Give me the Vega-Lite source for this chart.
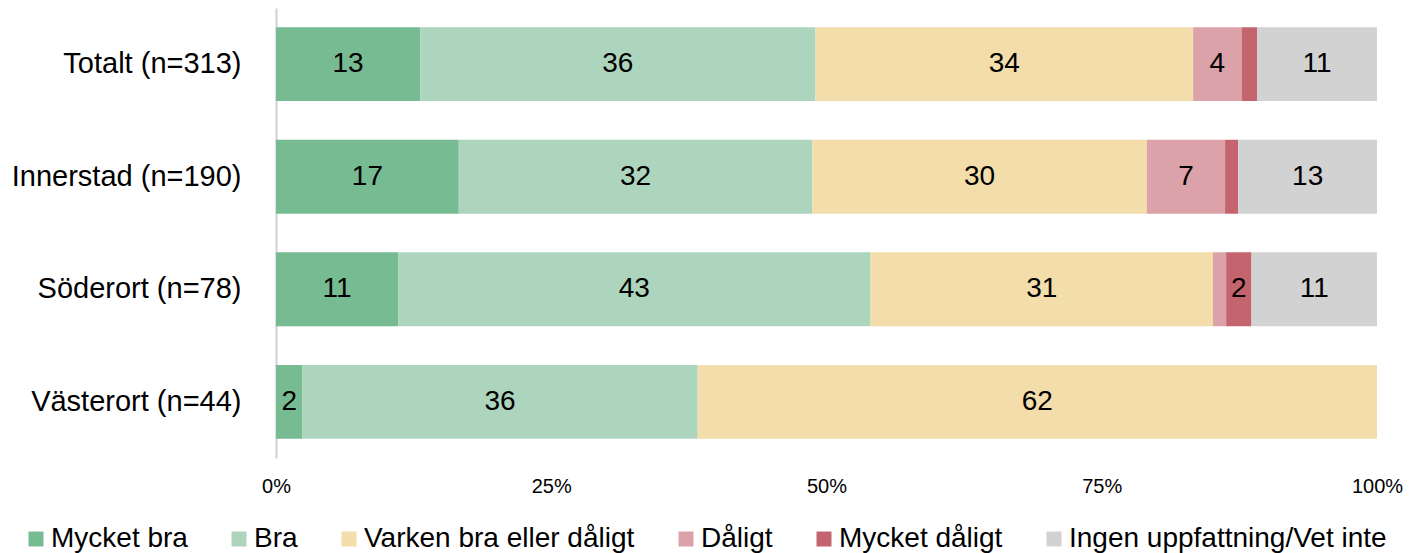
{
  "$schema": "https://vega.github.io/schema/vega-lite/v6.json",
  "autosize": "none",
  "width": 1101,
  "height": 450,
  "padding": {"left": 276, "top": 8, "right": 33, "bottom": 95},
  "background": "white",
  "config": {
    "view": {"stroke": null},
    "font": "Liberation Sans"
  },
  "data": {
    "values": [
      {"region": "Totalt (n=313)", "cat": "Mycket bra", "idx": 1, "value": 13.1},
      {"region": "Totalt (n=313)", "cat": "Bra", "idx": 2, "value": 35.9},
      {"region": "Totalt (n=313)", "cat": "Varken bra eller dåligt", "idx": 3, "value": 34.3},
      {"region": "Totalt (n=313)", "cat": "Dåligt", "idx": 4, "value": 4.4},
      {"region": "Totalt (n=313)", "cat": "Mycket dåligt", "idx": 5, "value": 1.4},
      {"region": "Totalt (n=313)", "cat": "Ingen uppfattning/Vet inte", "idx": 6, "value": 10.9},
      {"region": "Innerstad (n=190)", "cat": "Mycket bra", "idx": 1, "value": 16.6},
      {"region": "Innerstad (n=190)", "cat": "Bra", "idx": 2, "value": 32.1},
      {"region": "Innerstad (n=190)", "cat": "Varken bra eller dåligt", "idx": 3, "value": 30.4},
      {"region": "Innerstad (n=190)", "cat": "Dåligt", "idx": 4, "value": 7.1},
      {"region": "Innerstad (n=190)", "cat": "Mycket dåligt", "idx": 5, "value": 1.2},
      {"region": "Innerstad (n=190)", "cat": "Ingen uppfattning/Vet inte", "idx": 6, "value": 12.6},
      {"region": "Söderort (n=78)", "cat": "Mycket bra", "idx": 1, "value": 11.1},
      {"region": "Söderort (n=78)", "cat": "Bra", "idx": 2, "value": 42.9},
      {"region": "Söderort (n=78)", "cat": "Varken bra eller dåligt", "idx": 3, "value": 31.1},
      {"region": "Söderort (n=78)", "cat": "Dåligt", "idx": 4, "value": 1.2},
      {"region": "Söderort (n=78)", "cat": "Mycket dåligt", "idx": 5, "value": 2.3},
      {"region": "Söderort (n=78)", "cat": "Ingen uppfattning/Vet inte", "idx": 6, "value": 11.4},
      {"region": "Västerort (n=44)", "cat": "Mycket bra", "idx": 1, "value": 2.4},
      {"region": "Västerort (n=44)", "cat": "Bra", "idx": 2, "value": 35.9},
      {"region": "Västerort (n=44)", "cat": "Varken bra eller dåligt", "idx": 3, "value": 61.7}
    ]
  },
  "transform": [
    {"stack": "value", "groupby": ["region"], "sort": [{"field": "idx", "order": "ascending"}], "offset": "normalize", "as": ["x0", "x1"]},
    {"calculate": "(datum.x0 + datum.x1) / 2", "as": "mid"}
  ],
  "encoding": {
    "y": {
      "field": "region",
      "type": "nominal",
      "sort": ["Totalt (n=313)", "Innerstad (n=190)", "Söderort (n=78)", "Västerort (n=44)"],
      "scale": {"paddingInner": 0.343, "paddingOuter": 0.17},
      "axis": {
        "title": null,
        "domain": true,
        "domainColor": "#D9D9D9",
        "domainWidth": 2.5,
        "ticks": false,
        "grid": false,
        "labelFontSize": 29,
        "labelColor": "#000000",
        "labelPadding": 35,
        "labelLimit": 0,
        "labelFont": "Liberation Sans"
      }
    }
  },
  "layer": [
    {
      "mark": {"type": "bar"},
      "encoding": {
        "x": {
          "field": "x0",
          "type": "quantitative",
          "scale": {"domain": [0, 1], "nice": false, "zero": true},
          "axis": {
            "title": null,
            "domain": false,
            "ticks": false,
            "grid": false,
            "values": [0, 0.25, 0.5, 0.75, 1],
            "format": ".0%",
            "labelFontSize": 20,
            "labelColor": "#000000",
            "labelPadding": 18,
            "labelFlush": false,
            "labelOverlap": false,
            "labelFont": "Liberation Sans"
          }
        },
        "x2": {"field": "x1"},
        "color": {
          "field": "cat",
          "type": "nominal",
          "scale": {
            "domain": ["Mycket bra", "Bra", "Varken bra eller dåligt", "Dåligt", "Mycket dåligt", "Ingen uppfattning/Vet inte"],
            "range": ["#77BB93", "#ADD5BD", "#F3DDAA", "#DCA2A9", "#C3646E", "#D2D2D2"]
          },
          "legend": {
            "title": null,
            "orient": "none",
            "legendX": -254,
            "legendY": 517,
            "direction": "horizontal",
            "columns": 6,
            "symbolType": "square",
            "symbolSize": 225,
            "symbolStrokeWidth": 0,
            "labelFontSize": 28,
            "labelColor": "#000000",
            "labelFont": "Liberation Sans",
            "labelOffset": 1,
            "labelLimit": 0,
            "columnPadding": 37,
            "padding": 0
          }
        }
      }
    },
    {
      "transform": [{"filter": "datum.value >= 1.5"}],
      "mark": {"type": "text", "fontSize": 28, "color": "#000000", "align": "center", "baseline": "middle", "font": "Liberation Sans"},
      "encoding": {
        "x": {"field": "mid", "type": "quantitative"},
        "text": {"field": "value", "type": "quantitative", "format": ".0f"}
      }
    }
  ]
}
